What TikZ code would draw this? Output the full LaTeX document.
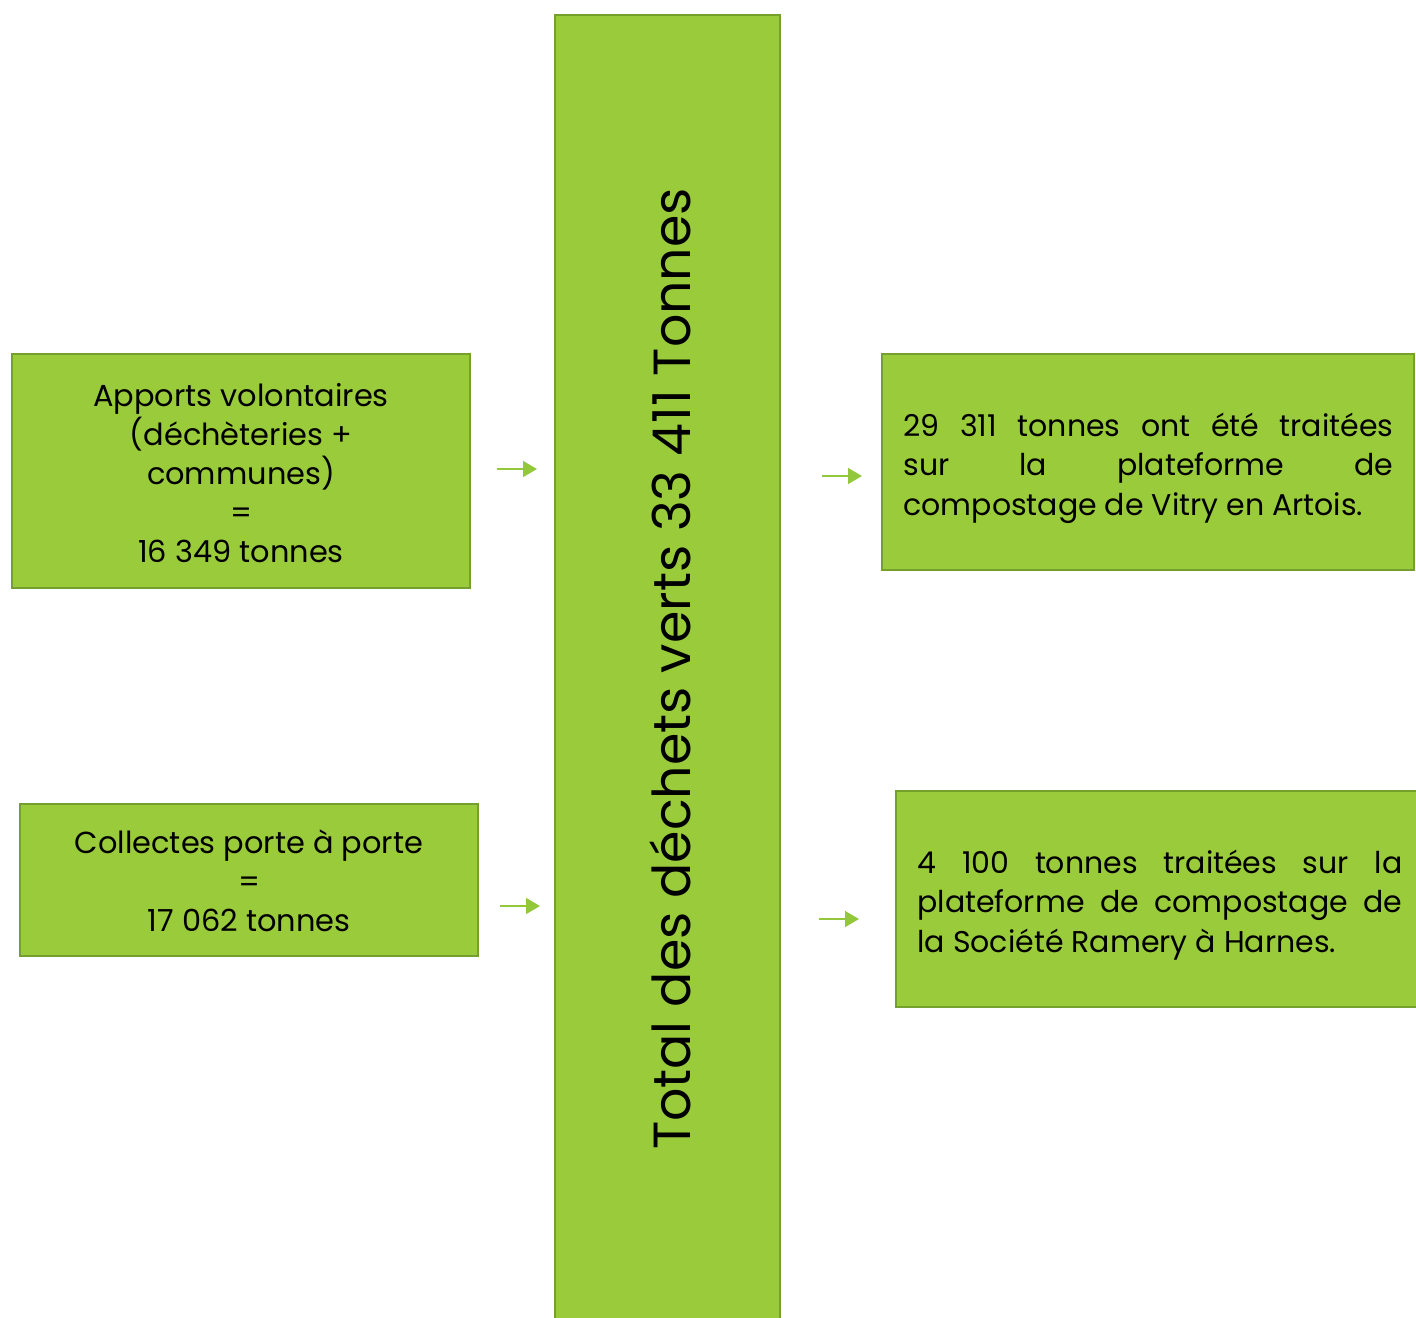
\documentclass[tikz,border=0pt]{standalone}
\usepackage{fontspec}
\setmainfont{Poppins}
\usetikzlibrary{arrows.meta}
\definecolor{boxfill}{HTML}{9ACB3B}
\definecolor{boxline}{HTML}{76A02C}
\definecolor{arrowc}{HTML}{92C83A}
\tikzset{
  box/.style={draw=boxline, line width=1.2pt, fill=boxfill, inner sep=0pt},
  lbl/.style={font=\fontsize{15.2}{19.6}\selectfont, text=black, align=center},
  rlbl/.style={font=\fontsize{15}{19.7}\selectfont, text=black, align=justify, inner sep=0pt},
  arr/.style={draw=arrowc, line width=0.8pt, -{Triangle[length=7pt,width=8pt]}}
}
\begin{document}
\begin{tikzpicture}[x=0.5pt,y=-0.5pt]
\useasboundingbox (0,0) rectangle (1416,1317);
% boxes
\draw[box] (555,15) rectangle (780,1330);
\draw[box] (12,354) rectangle (470,588);
\draw[box] (20,804) rectangle (478,956);
\draw[box] (882,354) rectangle (1414,570);
\draw[box] (896,791) rectangle (1430,1007);
\clip (0,0) rectangle (1416,1317);
% texts
\node[rotate=90, font=\fontsize{26.1}{31}\selectfont] (total) at (670,669) {Total des déchets verts 33 411 Tonnes};
\node[lbl] (apports) at (241,473) {Apports volontaires\\(déchèteries +\\communes)\\=\\16 349 tonnes};
\node[lbl] (collectes) at (249,881) {Collectes porte à porte\\=\\17 062 tonnes};
\node[rlbl, text width=245pt, anchor=west] (vitry) at (903,468) {\hyphenpenalty=10000 29 311 tonnes ont été traitées\linebreak sur la plateforme de\linebreak compostage de Vitry en Artois.};
\node[rlbl, text width=242.5pt, anchor=west] (harnes) at (917,905) {\hyphenpenalty=10000 4 100 tonnes traitées sur la\linebreak plateforme de compostage de\linebreak la Société Ramery à Harnes.};
% arrows
\coordinate (a1s) at (497,469); \coordinate (a1e) at (537,469);
\coordinate (a2s) at (500,906); \coordinate (a2e) at (540,906);
\coordinate (a3s) at (822,476); \coordinate (a3e) at (862,476);
\coordinate (a4s) at (819,919); \coordinate (a4e) at (859,919);
\draw[arr] (a1s) -- (a1e);
\draw[arr] (a2s) -- (a2e);
\draw[arr] (a3s) -- (a3e);
\draw[arr] (a4s) -- (a4e);
\end{tikzpicture}
\end{document}
